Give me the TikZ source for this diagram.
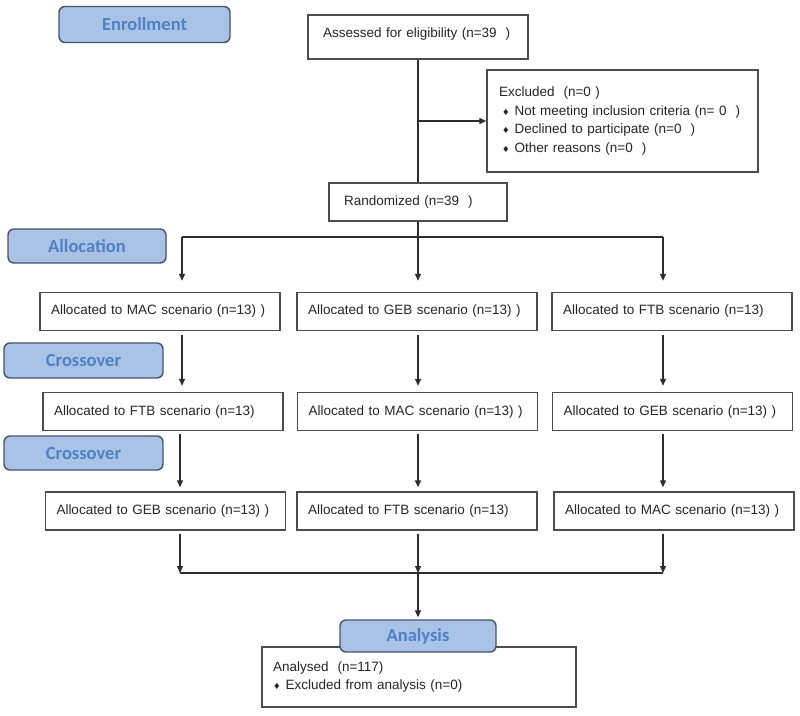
\documentclass[tikz,border=0pt]{standalone}
\usepackage{fontspec}
\setmainfont{Liberation Sans}
\newfontfamily\tagfont{Carlito}
\newfontfamily\symfont{DejaVu Sans}
\usetikzlibrary{arrows.meta}
\definecolor{tagfill}{RGB}{168,195,230}
\definecolor{tagdraw}{RGB}{68,84,106}
\definecolor{tagtext}{RGB}{79,129,196}
\definecolor{lncol}{RGB}{45,45,45}
\newcommand{\bul}{{\symfont\fontsize{8.5}{8.5}\selectfont ♦}\hspace{5pt}}
\tikzset{
  tag/.style={rectangle, rounded corners=6pt, draw=tagdraw, line width=1.4pt, fill=tagfill, text=tagtext, font=\tagfont\bfseries\fontsize{18.5}{20}\selectfont, inner sep=0pt},
  box/.style={rectangle, draw=lncol!85, line width=1.4pt, fill=white, font=\fontsize{13.5}{18.5}\selectfont, align=left, inner xsep=11pt, inner ysep=0pt, text=black!85},
  rowbox/.style={box, text width=218pt, minimum height=38pt},
  arr/.style={draw=lncol, line width=1.3pt, -{Triangle[width=6pt,length=7pt]}},
  ln/.style={draw=lncol, line width=1.3pt},
}
\begin{document}
\begin{tikzpicture}[x=1pt,y=-1pt]
\useasboundingbox (0,0) rectangle (800,715);
% etapas (etiquetas azuis)
\node at (144.5,24.5) (enroll) [tag, minimum width=171pt, minimum height=36pt] {Enrollment};
\node at (87,246) (alloc) [tag, minimum width=158pt, minimum height=34pt] {Allocation};
\node at (83.5,360.5) (cross1) [tag, minimum width=159pt, minimum height=35pt] {Crossover};
\node at (83.5,453) (cross2) [tag, minimum width=159pt, minimum height=34pt] {Crossover};

% caixas do topo
\node at (418,37) (assess) [box, inner xsep=15pt, text width=190pt, text depth=9pt, minimum height=44pt] {Assessed for eligibility (n=39\ \ )};
\node at (622.5,121) (excl) [box, inner xsep=12pt, text width=247pt, minimum height=102pt] {Excluded\ \ (n=0 )\\
\hspace*{3pt}\bul Not meeting inclusion criteria (n= 0\ \ )\\
\hspace*{3pt}\bul Declined to participate (n=0\ \ )\\
\hspace*{3pt}\bul Other reasons (n=0\ \ )};
\node at (418,202) (random) [box, inner xsep=15pt, text width=148pt, minimum height=38pt] {Randomized (n=39\ \ )};

% tres periodos
\node at (160,311.5) (a1) [rowbox] {Allocated to MAC scenario (n=13) )};
\node at (417,311.5) (b1) [rowbox] {Allocated to GEB scenario (n=13) )};
\node at (672,311.5) (c1) [rowbox] {Allocated to FTB scenario (n=13)};
\node at (163,411.5) (a2) [rowbox] {Allocated to FTB scenario (n=13)};
\node at (417.5,411.5) (b2) [rowbox] {Allocated to MAC scenario (n=13) )};
\node at (672.5,411.5) (c2) [rowbox] {Allocated to GEB scenario (n=13) )};
\node at (165.5,511) (a3) [rowbox] {Allocated to GEB scenario (n=13) )};
\node at (417,511) (b3) [rowbox] {Allocated to FTB scenario (n=13)};
\node at (674,511) (c3) [rowbox] {Allocated to MAC scenario (n=13) )};

% analise
\node at (419,677) (analysed) [box, text width=292pt, minimum height=60pt] {Analysed\ \ (n=117)\\
\bul Excluded from analysis (n=0)};
\node at (418,636) (analysis) [tag, minimum width=156pt, minimum height=32pt] {Analysis};

% pontos de ligacao
\coordinate (splitA) at (182,237);
\coordinate (splitC) at (663,237);
\coordinate (joinA) at (180,573);
\coordinate (join) at (418,573);
\coordinate (joinC) at (663,573);

% ligacoes
\draw[ln] (assess) -- (random);
\draw[arr] (excl.west -| assess.south) -- (excl.west);
\draw[ln] (splitA) -- (splitC);
\draw[arr, shorten >=11pt] (random.south) -- (b1.north -| random.south);
\draw[arr, shorten >=11pt] (splitA) -- (splitA |- a1.north);
\draw[arr, shorten >=11pt] (splitC) -- (splitC |- c1.north);
\draw[arr, shorten <=4pt, shorten >=6pt] (a1.south -| splitA) -- (a2.north -| splitA);
\draw[arr, shorten <=4pt, shorten >=6pt] (b1.south -| join) -- (b2.north -| join);
\draw[arr, shorten <=4pt, shorten >=6pt] (c1.south -| splitC) -- (c2.north -| splitC);
\draw[arr, shorten <=3pt, shorten >=4pt] (a2.south -| joinA) -- (a3.north -| joinA);
\draw[arr, shorten <=3pt, shorten >=4pt] (b2.south -| join) -- (b3.north -| join);
\draw[arr, shorten <=3pt, shorten >=4pt] (c2.south -| joinC) -- (c3.north -| joinC);
\draw[arr, shorten <=3pt] (a3.south -| joinA) -- (joinA);
\draw[arr, shorten <=3pt] (b3.south -| join) -- (join);
\draw[arr, shorten <=3pt] (c3.south -| joinC) -- (joinC);
\draw[ln] (joinA) -- (joinC);
\draw[arr, shorten >=2pt] (join) -- (analysis);
\end{tikzpicture}
\end{document}
